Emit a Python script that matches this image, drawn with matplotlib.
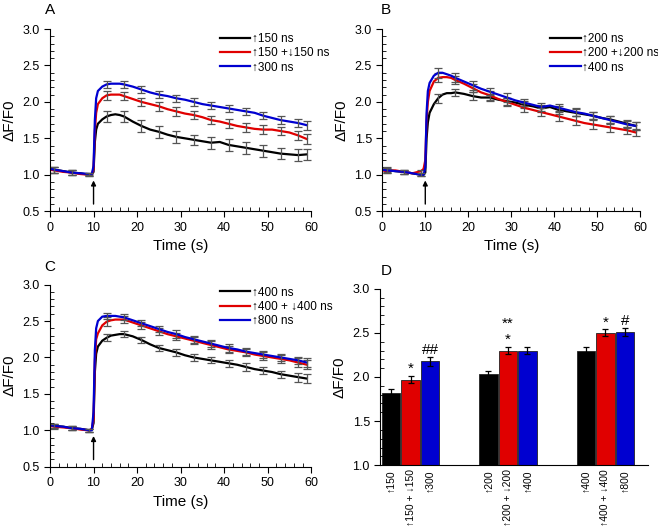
#!/usr/bin/env python3

import matplotlib
matplotlib.use("Agg")
import matplotlib.pyplot as plt
from matplotlib.ticker import MultipleLocator

plt.rcParams["font.family"] = ["Liberation Sans", "DejaVu Sans"]

# time axis of the traces (s)
time = [0, 1, 3, 5, 7, 9, 9.6, 10, 10.3, 10.6, 11, 12, 13, 14, 15, 16, 17,
        19, 21, 23, 25, 27, 29, 31, 33, 35, 37, 39, 41, 43, 45, 47, 49, 51,
        53, 55, 57, 59]
# times where the error bars are drawn
err_time = [1, 5, 9, 13, 17, 21, 25, 29, 33, 37, 41, 45, 49, 53, 57, 59]

# Panel A
a_labels = ["\u2191150 ns", "\u2191150 +\u2193150 ns", "\u2191300 ns"]
a_black = [1.08, 1.07, 1.05, 1.03, 1.02, 1.00, 1.00, 1.04, 1.45, 1.62, 1.70,
           1.76, 1.80, 1.82, 1.83, 1.82, 1.80, 1.73, 1.67, 1.62, 1.59, 1.55,
           1.52, 1.50, 1.48, 1.46, 1.44, 1.45, 1.41, 1.39, 1.37, 1.35, 1.33,
           1.31, 1.29, 1.28, 1.27, 1.28]
a_red = [1.07, 1.06, 1.04, 1.03, 1.01, 1.00, 1.00, 1.08, 1.60, 1.85, 1.97,
         2.05, 2.09, 2.10, 2.10, 2.10, 2.08, 2.04, 2.00, 1.97, 1.94, 1.90,
         1.87, 1.84, 1.82, 1.79, 1.75, 1.73, 1.70, 1.67, 1.65, 1.63, 1.62,
         1.62, 1.60, 1.58, 1.54, 1.49]
a_blue = [1.08, 1.07, 1.05, 1.03, 1.02, 1.01, 1.01, 1.12, 1.75, 2.05, 2.15,
          2.21, 2.24, 2.25, 2.25, 2.25, 2.24, 2.21, 2.17, 2.13, 2.10, 2.08,
          2.05, 2.03, 2.00, 1.97, 1.95, 1.93, 1.91, 1.89, 1.87, 1.85, 1.81,
          1.78, 1.75, 1.73, 1.71, 1.68]
a_black_err = [0.04, 0.03, 0.02, 0.07, 0.07, 0.08, 0.08, 0.08, 0.07, 0.08,
               0.08, 0.08, 0.08, 0.08, 0.08, 0.08]
a_red_err = [0.04, 0.03, 0.02, 0.06, 0.06, 0.06, 0.06, 0.06, 0.06, 0.06,
             0.06, 0.06, 0.06, 0.06, 0.06, 0.07]
a_blue_err = [0.04, 0.03, 0.02, 0.05, 0.05, 0.05, 0.05, 0.05, 0.05, 0.05,
              0.05, 0.05, 0.05, 0.05, 0.05, 0.06]

# Panel B
b_labels = ["\u2191200 ns", "\u2191200 +\u2193200 ns", "\u2191400 ns"]
b_black = [1.07, 1.07, 1.05, 1.04, 1.02, 1.00, 1.00, 1.03, 1.50, 1.72, 1.85,
           1.97, 2.05, 2.10, 2.12, 2.12, 2.13, 2.11, 2.08, 2.06, 2.06, 2.03,
           2.01, 1.99, 1.96, 1.94, 1.91, 1.93, 1.89, 1.87, 1.85, 1.83, 1.81,
           1.78, 1.76, 1.73, 1.70, 1.67]
b_red = [1.06, 1.05, 1.06, 1.04, 1.02, 1.05, 1.08, 1.20, 1.75, 2.00, 2.15,
         2.28, 2.33, 2.34, 2.34, 2.33, 2.30, 2.25, 2.19, 2.13, 2.09, 2.04,
         2.00, 1.96, 1.92, 1.89, 1.86, 1.83, 1.80, 1.77, 1.74, 1.71, 1.69,
         1.67, 1.65, 1.63, 1.61, 1.58]
b_blue = [1.07, 1.06, 1.05, 1.04, 1.02, 1.00, 1.00, 1.10, 1.85, 2.15, 2.26,
          2.36, 2.40, 2.40, 2.38, 2.36, 2.33, 2.28, 2.23, 2.18, 2.14, 2.10,
          2.06, 2.02, 1.99, 1.96, 1.93, 1.95, 1.92, 1.89, 1.86, 1.84, 1.81,
          1.78, 1.75, 1.72, 1.69, 1.67]
b_black_err = [0.03, 0.03, 0.02, 0.06, 0.05, 0.05, 0.05, 0.05, 0.05, 0.05,
               0.05, 0.05, 0.05, 0.05, 0.05, 0.06]
b_red_err = [0.03, 0.03, 0.02, 0.06, 0.06, 0.06, 0.06, 0.06, 0.06, 0.06,
             0.06, 0.06, 0.06, 0.06, 0.05, 0.05]
b_blue_err = [0.03, 0.03, 0.02, 0.07, 0.06, 0.06, 0.05, 0.06, 0.05, 0.05,
              0.05, 0.05, 0.05, 0.05, 0.05, 0.06]

# Panel C
c_labels = ["\u2191400 ns", "\u2191400 + \u2193400 ns", "\u2191800 ns"]
c_black = [1.07, 1.06, 1.05, 1.03, 1.02, 1.00, 1.01, 1.10, 1.80, 2.05, 2.15,
           2.23, 2.27, 2.30, 2.31, 2.32, 2.32, 2.29, 2.24, 2.18, 2.13, 2.10,
           2.07, 2.03, 2.00, 1.98, 1.96, 1.94, 1.92, 1.90, 1.87, 1.84, 1.82,
           1.80, 1.77, 1.75, 1.73, 1.71]
c_red = [1.06, 1.05, 1.04, 1.03, 1.01, 1.00, 1.02, 1.15, 1.95, 2.25, 2.33,
         2.44, 2.49, 2.51, 2.52, 2.52, 2.52, 2.48, 2.44, 2.40, 2.36, 2.32,
         2.29, 2.26, 2.23, 2.20, 2.17, 2.14, 2.11, 2.09, 2.07, 2.04, 2.02,
         2.00, 1.98, 1.96, 1.93, 1.90]
c_blue = [1.07, 1.06, 1.05, 1.03, 1.02, 1.00, 1.00, 1.25, 2.10, 2.40, 2.50,
          2.56, 2.57, 2.57, 2.57, 2.56, 2.55, 2.51, 2.47, 2.43, 2.39, 2.35,
          2.32, 2.28, 2.25, 2.22, 2.19, 2.16, 2.13, 2.11, 2.08, 2.06, 2.04,
          2.02, 2.00, 1.98, 1.96, 1.93]
c_black_err = [0.03, 0.03, 0.02, 0.05, 0.04, 0.04, 0.04, 0.05, 0.05, 0.04,
               0.05, 0.05, 0.05, 0.05, 0.06, 0.06]
c_red_err = [0.03, 0.03, 0.02, 0.06, 0.05, 0.05, 0.05, 0.05, 0.05, 0.05,
             0.05, 0.05, 0.05, 0.05, 0.06, 0.06]
c_blue_err = [0.03, 0.03, 0.02, 0.04, 0.04, 0.04, 0.04, 0.05, 0.05, 0.05,
              0.05, 0.05, 0.05, 0.05, 0.05, 0.06]

# Panel D
d_labels = ["\u2191150", "\u2191150 + \u2193150", "\u2191300",
            "\u2191200", "\u2191200 + \u2193200", "\u2191400",
            "\u2191400", "\u2191400 + \u2193400", "\u2191800"]
d_values = [1.82, 1.97, 2.18, 2.03, 2.30, 2.30, 2.30, 2.50, 2.51]
d_errors = [0.04, 0.04, 0.05, 0.04, 0.04, 0.04, 0.04, 0.04, 0.04]
d_marks = ["", "*", "##", "", "*", "", "", "*", "#"]

colors = ["black", "#e00000", "#0000d0"]


def style_axes(ax):
    ax.spines["top"].set_visible(False)
    ax.spines["right"].set_visible(False)
    ax.yaxis.set_minor_locator(MultipleLocator(0.1))
    ax.tick_params(which="major", direction="out", length=4, labelsize=9)
    ax.tick_params(which="minor", direction="in", length=3)


def trace_panel(ax, series, errors, labels, legend_y):
    for y, e, col, lab in zip(series, errors, colors, labels):
        ax.plot(time, y, color=col, lw=1.6, label=lab)
        ey = [y[time.index(t)] for t in err_time]
        ax.errorbar(err_time, ey, yerr=e, fmt="none", ecolor="#555555",
                    elinewidth=0.9, capsize=2.8, capthick=0.9)
    ax.set_xlim(0, 60)
    ax.set_ylim(0.5, 3.0)
    ax.set_xticks(range(0, 61, 10))
    ax.set_yticks([0.5, 1.0, 1.5, 2.0, 2.5, 3.0])
    ax.xaxis.set_minor_locator(MultipleLocator(2))
    style_axes(ax)
    ax.set_xlabel("Time (s)", fontsize=11)
    ax.set_ylabel("\u0394F/F0", fontsize=11)
    ax.annotate("", xy=(10, 0.96), xytext=(10, 0.56),
                arrowprops=dict(arrowstyle="-|>", color="black", lw=1,
                                mutation_scale=7))
    ax.legend(loc="upper left", bbox_to_anchor=(0.65, legend_y),
              frameon=False, fontsize=8.5, handlelength=2.6,
              handletextpad=0.15, labelspacing=0.2, borderpad=0,
              borderaxespad=0)


def main():
    fig = plt.figure(figsize=(6.58, 5.28), dpi=100)
    ax_a = fig.add_axes([0.076, 0.600, 0.397, 0.345])
    ax_b = fig.add_axes([0.581, 0.600, 0.392, 0.345])
    ax_c = fig.add_axes([0.076, 0.116, 0.397, 0.345])
    ax_d = fig.add_axes([0.578, 0.119, 0.407, 0.334])

    trace_panel(ax_a, [a_black, a_red, a_blue],
                [a_black_err, a_red_err, a_blue_err], a_labels, 0.98)
    trace_panel(ax_b, [b_black, b_red, b_blue],
                [b_black_err, b_red_err, b_blue_err], b_labels, 0.98)
    trace_panel(ax_c, [c_black, c_red, c_blue],
                [c_black_err, c_red_err, c_blue_err], c_labels, 0.99)

    # bar chart
    width = 0.2
    xpos = []
    for g in range(3):
        for k in range(3):
            xpos.append(g + (k - 1) * width)
    bar_cols = colors * 3
    ax_d.bar(xpos, [v - 1.0 for v in d_values], width=width * 0.95,
             bottom=1.0, color=bar_cols, edgecolor="#222222", linewidth=0.6,
             yerr=d_errors, error_kw=dict(ecolor="black", elinewidth=0.9,
                                          capsize=2.5, capthick=0.9))
    for x, v, e, m in zip(xpos, d_values, d_errors, d_marks):
        if m:
            ax_d.text(x, v + e + 0.0, m, ha="center", va="bottom",
                      fontsize=11)
    ax_d.text(xpos[4], 2.52, "**", ha="center", va="bottom", fontsize=11)
    ax_d.set_xlim(-0.31, 2.44)
    ax_d.set_ylim(1.0, 3.0)
    ax_d.set_yticks([1.0, 1.5, 2.0, 2.5, 3.0])
    style_axes(ax_d)
    ax_d.set_xticks(xpos)
    ax_d.set_xticklabels(d_labels, rotation=90, fontsize=7.5)
    ax_d.tick_params(axis="x", length=0, pad=3)
    ax_d.set_ylabel("\u0394F/F0", fontsize=11)

    for x, y, s in [(0.068, 0.995, "A"), (0.578, 0.995, "B"),
                    (0.068, 0.508, "C"), (0.578, 0.500, "D")]:
        fig.text(x, y, s, fontsize=11, va="top")

    fig.savefig("out.png", dpi=100)


if __name__ == "__main__":
    main()
